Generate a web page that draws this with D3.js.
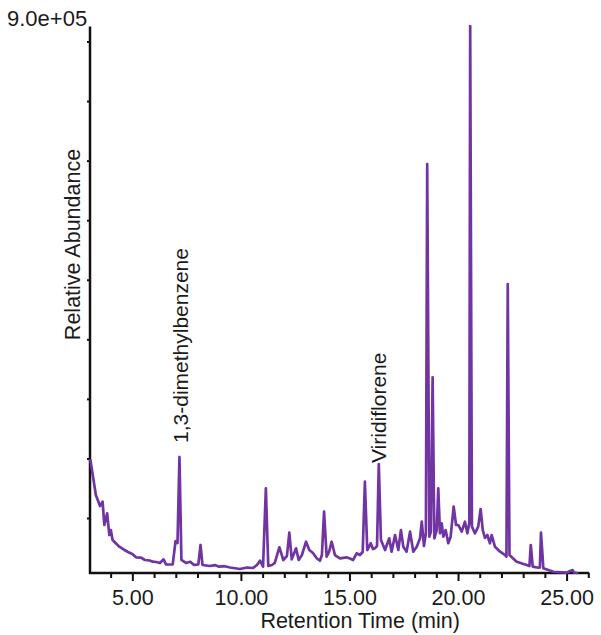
<!DOCTYPE html>
<html>
<head>
<meta charset="utf-8">
<script src="https://cdn.jsdelivr.net/npm/d3@7/dist/d3.min.js"></script>
<style>
  body { margin: 0; background: #fff; }
  svg { display: block; }
  text { font-family: Arial, "Liberation Sans", Helvetica, sans-serif; fill: #1b1b1b; }
</style>
</head>
<body>
<svg id="chart" width="601" height="635"></svg>
<script>
// Total ion chromatogram: retention time (min) and abundance (counts)
const retentionTime = [
  3.07, 3.32, 3.51, 3.63, 3.71, 3.84, 3.94, 4.01, 4.09, 4.25,
  4.40, 4.60, 4.80, 5.00, 5.17, 5.40, 5.58, 5.80, 5.94, 6.10,
  6.27, 6.44, 6.55, 6.70, 6.86, 6.99, 7.08, 7.17, 7.26, 7.47,
  7.67, 7.84, 8.04, 8.14, 8.23, 8.57, 8.80, 9.00, 9.25, 9.50,
  9.96, 10.28, 10.56, 10.74, 10.88, 11.02, 11.15, 11.26,
  11.43, 11.56, 11.77, 11.84, 11.95, 12.12, 12.23, 12.34, 12.54, 12.66,
  12.81, 13.00, 13.15, 13.32, 13.49, 13.64, 13.73, 13.83, 13.95, 14.06,
  14.18, 14.33, 14.56, 14.87, 15.02, 15.17, 15.33, 15.48, 15.61, 15.71,
  15.82, 15.98, 16.08, 16.17, 16.27, 16.35, 16.45, 16.64, 16.83, 16.94,
  17.10, 17.25, 17.37, 17.48, 17.63, 17.79, 17.94, 18.10, 18.25, 18.33,
  18.43, 18.52, 18.58, 18.68, 18.75, 18.83, 18.91, 19.02, 19.09, 19.17,
  19.25, 19.32, 19.43, 19.55, 19.66, 19.80, 19.91, 20.01, 20.17, 20.32,
  20.43, 20.52, 20.56, 20.64, 20.78, 20.93, 21.04, 21.14, 21.24, 21.35,
  21.47, 21.55, 21.70, 21.94, 22.17, 22.23, 22.29, 22.37, 22.70, 23.16,
  23.29, 23.35, 23.44, 23.70, 23.77, 23.82, 23.93, 24.39, 25.00, 25.16,
  25.28, 25.34, 25.48
];
const abundance = [
  185900, 128300, 110200, 117300, 79000, 98200, 62500, 70700, 54300, 48500,
  43300, 38700, 34600, 31300, 25800, 25200, 21400, 20600, 18600, 18100,
  16500, 22500, 14300, 14000, 14300, 52600, 49400, 190900, 21400, 16500,
  18600, 13200, 14300, 46100, 13200, 11500, 13000, 10400, 11200, 9000,
  6600, 9000, 8200, 13200, 20200, 10400, 139400, 11500,
  13200, 16500, 42300, 34600, 21400, 28000, 66300, 22500, 40600, 21400,
  29600, 51500, 37800, 32900, 24200, 20200, 29600, 100900, 26800, 34600,
  51500, 29600, 24200, 25800, 23900, 21400, 32400, 29600, 34600, 150200,
  37800, 48900, 39500, 40600, 44400, 179300, 54300, 37800, 57100, 35000,
  62500, 37800, 70700, 43300, 35000, 68000, 35000, 43300, 57100, 84400,
  44400, 65800, 672900, 59700, 68000, 322000, 57100, 70700, 139400, 65300,
  81800, 59700, 70700, 48900, 59700, 109100, 79000, 79000, 68000, 84400,
  65300, 81800, 900000, 76200, 65300, 76200, 105300, 70700, 57600, 62500,
  48900, 62500, 43300, 35000, 29600, 26800, 475500, 29600, 18600, 13200,
  11500, 46100, 10400, 8700, 9000, 66300, 7700, 2100, 500, 3300,
  4900, 800, 0
];

// Axis settings
const timeRange = [3.05, 26.0];
const xMajorTicks = [5, 10, 15, 20, 25];
const xTickLabels = ["5.00", "10.00", "15.00", "20.00", "25.00"];
const xMinorTicks = [4, 6, 7, 8, 9, 11, 12, 13, 14, 16, 17, 18, 19, 21, 22, 23, 24, 26];
const yMax = 9.0e5;
const yMaxLabel = "9.0e+05";
const yMinorTicks = [90500, 188500, 286500, 384500, 482500, 580500, 678500, 776500, 874500];

// Identified compounds
const peakNames = ["1,3-dimethylbenzene", "Viridiflorene"];
const peakTimes = [7.17, 16.35];

const svg = d3.select("#chart");
const plot = { left: 90, right: 588.3, top: 26, bottom: 573 };

const x = d3.scaleLinear().domain(timeRange).range([plot.left, plot.right]);
const y = d3.scaleLinear().domain([0, yMax]).range([plot.bottom, plot.top]);

const axisColor = "#111";

// x axis: minor and major ticks
const gx = svg.append("g").attr("transform", `translate(0,${plot.bottom})`);
gx.append("g")
  .call(d3.axisBottom(x).tickValues(xMinorTicks).tickSize(5).tickFormat(""))
  .call(g => g.select(".domain").remove());
gx.append("g")
  .call(d3.axisBottom(x).tickValues(xMajorTicks).tickSize(8)
    .tickFormat((d, i) => xTickLabels[i]))
  .call(g => g.select(".domain").remove());
gx.selectAll(".tick line").attr("stroke", axisColor).attr("stroke-width", 2);
gx.selectAll(".tick text")
  .attr("font-size", 21.5).attr("dy", null).attr("y", 32)
  .attr("font-family", "Arial, 'Liberation Sans', sans-serif")
  .attr("fill", "#1b1b1b");

// y axis: small unlabeled ticks on the outside
const gy = svg.append("g").attr("transform", `translate(${plot.left},0)`);
gy.call(d3.axisLeft(y).tickValues(yMinorTicks).tickSize(3).tickFormat(""))
  .call(g => g.select(".domain").remove());
gy.selectAll(".tick line").attr("stroke", axisColor).attr("stroke-width", 2);

// axis lines
svg.append("line")
  .attr("x1", plot.left).attr("x2", plot.left)
  .attr("y1", plot.top + 0.5).attr("y2", plot.bottom + 1)
  .attr("stroke", axisColor).attr("stroke-width", 2.5);
svg.append("line")
  .attr("x1", plot.left - 1).attr("x2", plot.right + 1)
  .attr("y1", plot.bottom).attr("y2", plot.bottom)
  .attr("stroke", axisColor).attr("stroke-width", 2.5);

// chromatogram trace
const points = retentionTime.map((t, i) => [t, abundance[i]]);
const line = d3.line().x(d => x(d[0])).y(d => y(d[1]));
svg.append("path")
  .datum(points)
  .attr("d", line)
  .attr("fill", "none")
  .attr("stroke", "#7035a2")
  .attr("stroke-width", 2.7)
  .attr("stroke-linejoin", "round")
  .attr("stroke-linecap", "round");

// titles
svg.append("text")
  .attr("x", 7).attr("y", 26)
  .attr("font-size", 22)
  .text(yMaxLabel);

svg.append("text")
  .attr("transform", `translate(80,${(plot.top + plot.bottom) / 2 - 55}) rotate(-90)`)
  .attr("text-anchor", "middle")
  .attr("font-size", 21.5)
  .text("Relative Abundance");

svg.append("text")
  .attr("x", (plot.left + plot.right) / 2 + 21).attr("y", 628)
  .attr("text-anchor", "middle")
  .attr("font-size", 21.5)
  .text("Retention Time (min)");

// compound labels above their peaks
const labelStyle = [{ dx: 9, gap: 14 }, { dx: 7.5, gap: 1 }];
peakNames.forEach((name, i) => {
  const idx = retentionTime.indexOf(peakTimes[i]);
  const px = x(peakTimes[i]) + labelStyle[i].dx;
  const py = y(abundance[idx]) - labelStyle[i].gap;
  svg.append("text")
    .attr("transform", `translate(${px},${py}) rotate(-90)`)
    .attr("font-size", 21)
    .text(name);
});
</script>
</body>
</html>
